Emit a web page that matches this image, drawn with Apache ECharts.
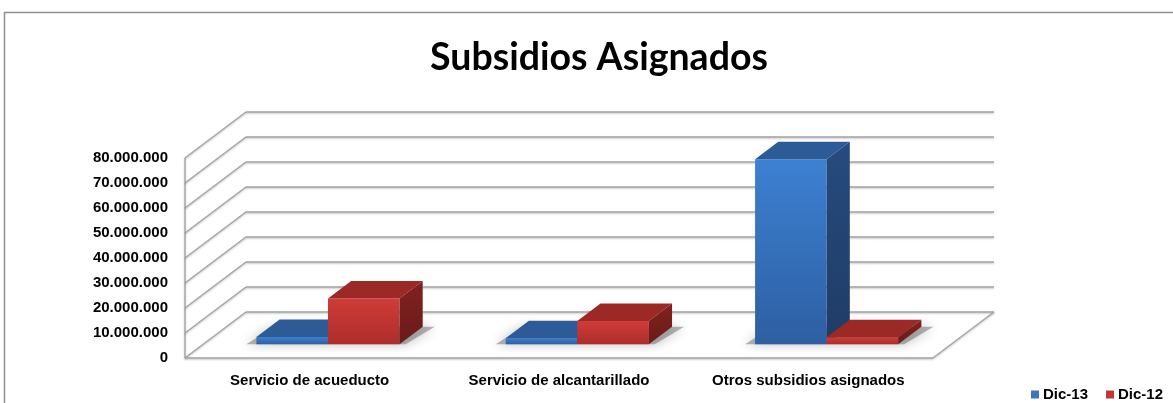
<!DOCTYPE html>
<html><head><meta charset="utf-8">
<script src="https://cdn.jsdelivr.net/npm/echarts@6/dist/echarts.min.js"></script>
<style>html,body{margin:0;padding:0;background:#fff}#c{width:1173px;height:403px}</style>
</head><body><div id="c"></div>
<script>
const categories = ['Servicio de acueducto', 'Servicio de alcantarillado', 'Otros subsidios asignados'];
const dic13 = [2900000, 2400000, 74000000];
const dic12 = [18300000, 9300000, 2800000];
const yTicks = [0, 10000000, 20000000, 30000000, 40000000, 50000000, 60000000, 70000000, 80000000];
const seriesNames = ['Dic-13', 'Dic-12'];

const DX = 61, DY = -46;          // wall depth
const BF = 0.30, BD = 0.38;       // bar front depth fraction and bar depth fraction
const BW = 0.287;                 // bar width in category units
const FONT = '"Liberation Sans", Arial, sans-serif';

const fmt = v => String(v).replace(/\B(?=(\d{3})+(?!\d))/g, '.');
const add = (p, dx, dy) => [p[0] + dx, p[1] + dy];

const palette = {
  blue: {front: ['#3d80d2', '#2d5fa2'], top: '#2c5b98', side: ['#264b7e', '#1f3c66'], legend: '#3a74c4'},
  red: {front: ['#d03c37', '#ad2d2a'], top: '#9d2926', side: ['#80221f', '#6a1b19'], legend: '#c0392f'}
};
const cols = [palette.blue, palette.red];

function wallItem(params, api) {
  const v = api.value(1);
  const fl = api.coord([0, v]);
  const fr = api.coord([3, v]);
  const bl = add(fl, DX, DY), br = add(fr, DX, DY);
  const ls = {stroke: '#a3a3a3', lineWidth: 1.3, shadowColor: 'rgba(0,0,0,0.25)', shadowBlur: 2, shadowOffsetY: 1};
  const children = [
    {type: 'line', shape: {x1: fl[0], y1: fl[1], x2: bl[0], y2: bl[1]}, style: ls},
    {type: 'line', shape: {x1: bl[0], y1: bl[1], x2: br[0], y2: br[1]}, style: ls}
  ];
  if (params.dataIndex === 0) {
    const top = api.coord([0, yTicks[yTicks.length - 1]]);
    children.push({type: 'line', shape: {x1: fl[0], y1: fl[1], x2: top[0], y2: top[1]}, style: ls});
    children.push({type: 'line', shape: {x1: fl[0], y1: fl[1], x2: fr[0], y2: fr[1]}, style: ls});
    children.push({type: 'line', shape: {x1: fr[0], y1: fr[1], x2: br[0], y2: br[1]}, style: ls});
  }
  return {type: 'group', children};
}

function shadowItem(params, api) {
  const k = api.value(0);
  const cx = k + 0.5;
  const a = api.coord([cx - BW, 0]), b = api.coord([cx + BW, 0]);
  const f0 = add(a, DX * BF, DY * BF), f1 = add(b, DX * BF, DY * BF);
  const pts = [add(f0, -10, 0), add(f1, 6, 0), add(f1, DX * BD + 12, DY * BD), add(f0, DX * BD - 6, DY * BD)];
  return {type: 'polygon', shape: {points: pts},
    style: {fill: 'rgba(90,90,90,0.45)', shadowColor: 'rgba(0,0,0,0.55)', shadowBlur: 12}};
}

function barRenderer(si) {
  return function (params, api) {
    const k = api.value(0), v = api.value(1);
    const cx = k + 0.5;
    const x0 = si === 0 ? cx - BW : cx, x1 = si === 0 ? cx : cx + BW;
    const fx = DX * BF, fy = DY * BF, dx = DX * BD, dy = DY * BD;
    const p0 = add(api.coord([x0, 0]), fx, fy);
    const p1 = add(api.coord([x1, v]), fx, fy);
    const L = p0[0], R = p1[0], B = p0[1], T = p1[1];
    const c = cols[si];
    const G = echarts.graphic.LinearGradient;
    return {type: 'group', children: [
      {type: 'polygon', shape: {points: [[L, B], [R, B], [R, T], [L, T]]},
        style: {fill: new G(0, 0, 0, 1, [{offset: 0, color: c.front[0]}, {offset: 1, color: c.front[1]}])}},
      {type: 'polygon', shape: {points: [[L, T], [R, T], [R + dx, T + dy], [L + dx, T + dy]]},
        style: {fill: c.top}},
      {type: 'polygon', shape: {points: [[R, B], [R + dx, B + dy], [R + dx, T + dy], [R, T]]},
        style: {fill: new G(0, 0, 0, 1, [{offset: 0, color: c.side[0]}, {offset: 1, color: c.side[1]}])}}
    ]};
  };
}

const chart = echarts.init(document.getElementById('c'), null, {renderer: 'canvas'});
chart.setOption({
  animation: false,
  backgroundColor: '#fff',
  color: [palette.blue.legend, palette.red.legend],
  title: {
    text: 'Subsidios Asignados', left: 425, top: 34,
    textStyle: {fontFamily: 'Lato, "Liberation Sans", sans-serif', fontWeight: 'bold', fontSize: 37.5, color: '#000'}
  },
  graphic: [{type: 'rect', shape: {x: 4.5, y: 12.5, width: 1300, height: 600},
    style: {fill: 'none', stroke: '#8f8f8f', lineWidth: 1.5}, silent: true, z: -10}],
  legend: {
    data: seriesNames, left: 1026, top: 382, icon: 'rect', itemWidth: 8, itemHeight: 8, itemGap: 18,
    textStyle: {fontFamily: FONT, fontWeight: 'bold', fontSize: 15, color: '#000', padding: [0, 0, 0, -1]}
  },
  grid: {left: 185, right: 240, top: 158, bottom: 45},
  xAxis: [
    {type: 'category', data: categories, axisLine: {show: false}, axisTick: {show: false},
      axisLabel: {interval: 0, margin: 15, fontFamily: FONT, fontWeight: 'bold', fontSize: 15, color: '#000'}},
    {type: 'value', min: 0, max: 3, show: false}
  ],
  yAxis: {
    type: 'value', min: 0, max: 80000000, interval: 10000000,
    axisLine: {show: false}, axisTick: {show: false}, splitLine: {show: false},
    axisLabel: {margin: 17, formatter: fmt, fontFamily: FONT, fontWeight: 'bold', fontSize: 15, color: '#000'}
  },
  series: [
    {type: 'custom', name: 'walls', xAxisIndex: 1, renderItem: wallItem, silent: true, z: 1,
      data: yTicks.map(v => [0, v])},
    {type: 'custom', name: 'shadow', xAxisIndex: 1, renderItem: shadowItem, silent: true, z: 2,
      data: categories.map((c, k) => [k, 0])},
    {type: 'custom', name: seriesNames[0], xAxisIndex: 1, renderItem: barRenderer(0), z: 3,
      itemStyle: {color: palette.blue.legend}, data: dic13.map((v, k) => [k, v])},
    {type: 'custom', name: seriesNames[1], xAxisIndex: 1, renderItem: barRenderer(1), z: 4,
      itemStyle: {color: palette.red.legend}, data: dic12.map((v, k) => [k, v])}
  ]
});
</script></body></html>
